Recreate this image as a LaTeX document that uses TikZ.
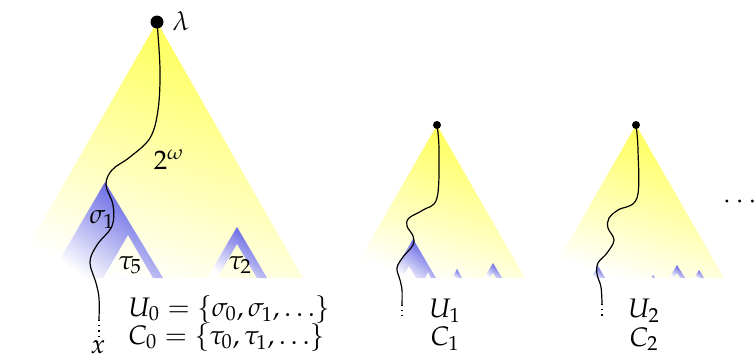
\documentclass[tikz,border=0pt]{standalone}
\usepackage{amsmath}
\usepackage{mathpazo}
\usepackage{xcolor}
\definecolor{TreeYellow}{RGB}{255,255,80}
\definecolor{TreeBlue}{RGB}{85,85,225}

\begin{document}
\begin{tikzpicture}[
  x=0.5pt,y=-0.5pt,font=\fontsize{13.4}{16}\selectfont,
  yellowtree/.style={top color=TreeYellow,middle color=TreeYellow!62,
    bottom color=white,shading angle=-18},
  bluetree/.style={top color=TreeBlue,bottom color=white,shading angle=-35,
    even odd rule},
  root/.style={circle,fill=black,inner sep=0pt,minimum size=#1},
  branch/.style={line width=0.6pt},
  tail/.style={dotted,line width=0.6pt},
  lbl/.style={inner sep=1pt}
]
\useasboundingbox (0,0) rectangle (755,361);

% the full tree 2^omega
\shade[yellowtree] (157,22) -- (303,278) -- (10,278) -- cycle;
\shade[bluetree] (105,182) -- (163,278) -- (49,278) -- cycle
  (128,235) -- (153,278) -- (103,278) -- cycle;
\shade[bluetree] (237,227) -- (267,278) -- (207,278) -- cycle
  (237,244) -- (257,278) -- (217,278) -- cycle;

\node[root=6.5pt] (lam) at (157,22) {};
\node[lbl] (lamlbl) at (181,21) {$\lambda$};
\node[lbl] (omega) at (169,160) {$2^{\omega}$};
\node[lbl] (sigma) at (102,219) {$\sigma_1$};
\node[lbl] (tau5) at (130,265) {$\tau_5$};
\node[lbl] (tau2) at (240,265) {$\tau_2$};

\coordinate (xend) at (99,320);
\coordinate (xdot) at (99,336);
\draw[branch] plot[smooth,tension=0.6] coordinates {(lam.center) (160,70)
  (158,110) (150,138) (130,157) (112,170) (106,185) (113,205) (112,226)
  (97,245) (90,262) (96,283) (99,298) (xend)};
\draw[tail] (xend) -- (xdot);
\node[lbl] (x) at (98,347) {$x$};

\node[lbl,anchor=west] (uzero) at (126,309)
  {$U_0=\{\sigma_0,\sigma_1,\ldots\}$};
\node[lbl,anchor=west] (czero) at (126,337)
  {$C_0=\{\tau_0,\tau_1,\ldots\}$};

% first subtree
\shade[yellowtree] (437,125) -- (525,278) -- (349,278) -- cycle;
\shade[bluetree] (413,239) -- (436,278) -- (390,278) -- cycle
  (409,266) -- (416,278) -- (402,278) -- cycle
  (428,272) -- (431,278) -- (425,278) -- cycle;
\shade[bluetree] (457,269) -- (462,278) -- (452,278) -- cycle;
\shade[bluetree] (493,263) -- (502,278) -- (484,278) -- cycle
  (493,273) -- (496,278) -- (490,278) -- cycle;

\node[root=4pt] (rootone) at (437,125) {};
\coordinate (oneend) at (402,305);
\coordinate (onedot) at (402,316);
\draw[branch] plot[smooth,tension=0.6] coordinates {(rootone.center)
  (439,150) (437,198) (423,210) (409,218) (407,226) (413,236) (413,245)
  (403,257) (397,268) (400,280) (402,290) (oneend)};
\draw[tail] (oneend) -- (onedot);
\node[lbl] (uone) at (445,311) {$U_1$};
\node[lbl] (cone) at (445,339) {$C_1$};

% second subtree
\shade[yellowtree] (636,125) -- (724,278) -- (548,278) -- cycle;
\shade[bluetree] (598,266) -- (605,278) -- (591,278) -- cycle;
\shade[bluetree] (653,275) -- (655,278) -- (651,278) -- cycle;
\shade[bluetree] (677,265) -- (685,278) -- (669,278) -- cycle
  (677,273) -- (680,278) -- (674,278) -- cycle;
\shade[bluetree] (699,270) -- (704,278) -- (694,278) -- cycle;

\node[root=4pt] (roottwo) at (636,125) {};
\coordinate (twoend) at (602,304);
\coordinate (twodot) at (602,318);
\draw[branch] plot[smooth,tension=0.6] coordinates {(roottwo.center)
  (638,150) (637,198) (618,210) (609,218) (608,228) (614,240) (607,253)
  (598,263) (597,274) (601,287) (twoend)};
\draw[tail] (twoend) -- (twodot);
\node[lbl] (utwo) at (644,311) {$U_2$};
\node[lbl] (ctwo) at (644,339) {$C_2$};

\node[lbl] (more) at (742,202) {$\cdots$};

\end{tikzpicture}
\end{document}
